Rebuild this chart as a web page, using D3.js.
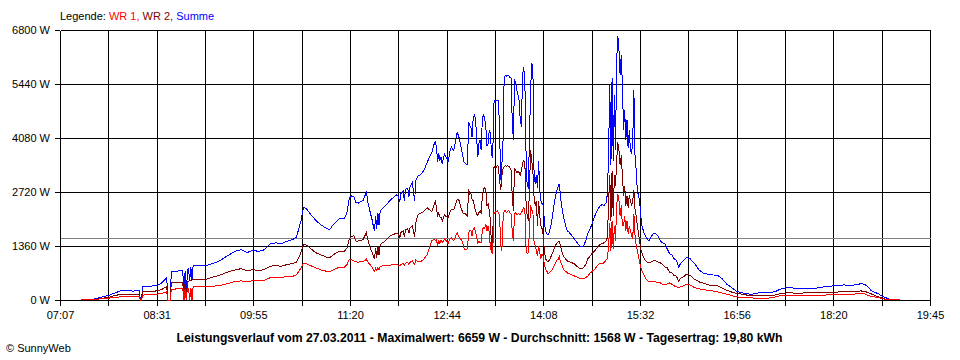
<!DOCTYPE html>
<html><head><meta charset="utf-8">
<script src="https://cdn.jsdelivr.net/npm/d3@7"></script>
<style>
body{margin:0;background:#fff}
svg{display:block}
text{font-family:"Liberation Sans",Arial,sans-serif}
</style>
</head><body><svg id="c" width="960" height="360"></svg>
<script>
const times = [
"07:25","07:30","07:35","07:40","07:41","07:45","07:50","07:54","08:00","08:05",
"08:10","08:16","08:17","08:18","08:19","08:25","08:30","08:35","08:40","08:41",
"08:43","08:44","08:50","08:54","08:55","08:56","08:57","08:58","08:59","09:00",
"09:01","09:02","09:03","09:10","09:15","09:20","09:25","09:30","09:35","09:40",
"09:45","09:50","09:55","10:00","10:05","10:10","10:15","10:20","10:25","10:30",
"10:33","10:35","10:37","10:39","10:40","10:42","10:45","10:50","10:55","11:00",
"11:02","11:05","11:10","11:15","11:17","11:19","11:21","11:23","11:25","11:27",
"11:29","11:31","11:33","11:34","11:35","11:37","11:39","11:40","11:41","11:42",
"11:43","11:44","11:45","11:46","11:50","11:55","12:00","12:02","12:03","12:04",
"12:06","12:07","12:08","12:10","12:11","12:12","12:14","12:15","12:16","12:17",
"12:19","12:21","12:24","12:27","12:29","12:31","12:33","12:34","12:35","12:36",
"12:37","12:38","12:39","12:40","12:42","12:44","12:45","12:47","12:48","12:50",
"12:51","12:52","12:53","12:54","12:55","12:56","12:57","12:58","12:59","13:00",
"13:02","13:03","13:04","13:05","13:06","13:07","13:08","13:09","13:10","13:11",
"13:12","13:13","13:14","13:15","13:16","13:17","13:18","13:19","13:20","13:21",
"13:22","13:23","13:24","13:25","13:26","13:27","13:28","13:29","13:30","13:31",
"13:32","13:33","13:34","13:35","13:36","13:37","13:38","13:39","13:40","13:41",
"13:42","13:43","13:44","13:45","13:46","13:47","13:48","13:49","13:50","13:51",
"13:52","13:53","13:54","13:55","13:56","13:57","13:58","13:59","14:00","14:01",
"14:02","14:03","14:04","14:05","14:06","14:07","14:08","14:09","14:10","14:11",
"14:12","14:13","14:14","14:15","14:16","14:17","14:18","14:19","14:20","14:21",
"14:22","14:23","14:24","14:25","14:26","14:27","14:28","14:29","14:30","14:31",
"14:33","14:35","14:37","14:39","14:41","14:43","14:45","14:47","14:49","14:51",
"14:53","14:55","14:57","14:59","15:01","15:03","15:04","15:05","15:06","15:07",
"15:08","15:09","15:10","15:11","15:12","15:13","15:14","15:15","15:16","15:17",
"15:18","15:19","15:20","15:21","15:22","15:23","15:24","15:25","15:26","15:27",
"15:28","15:29","15:30","15:31","15:32","15:33","15:34","15:36","15:38","15:40",
"15:42","15:44","15:46","15:48","15:50","15:52","15:54","15:56","15:58","16:00",
"16:02","16:04","16:06","16:08","16:10","16:13","16:16","16:20","16:24","16:28",
"16:32","16:36","16:40","16:44","16:48","16:52","16:56","17:00","17:05","17:10",
"17:15","17:20","17:25","17:30","17:35","17:40","17:45","17:50","17:55","18:00",
"18:05","18:10","18:15","18:20","18:25","18:30","18:35","18:40","18:45","18:48",
"18:51","18:54","18:57","19:00","19:03","19:06","19:10","19:15","19:19"
];

// Summe (W)
const summe = [
0,15,20,35,60,85,120,170,230,232,
226,228,0,0,330,345,360,410,560,0,
0,730,730,735,0,720,0,760,790,480,
830,500,860,860,870,920,970,1060,1150,1230,
1270,1190,1260,1220,1265,1410,1440,1420,1480,1530,
1580,1790,2000,2320,2330,2290,2170,2000,1880,1790,
1770,1900,2040,2060,2200,2560,2620,2600,2450,2440,
2480,2500,2650,2730,2500,2240,2010,1860,1750,2110,
1800,2180,1880,2250,2360,2520,2650,2600,2470,2680,
2740,2500,2780,2820,2600,2850,2960,2700,2500,3000,
3130,3150,3260,3470,3610,3720,3930,3980,3850,3470,
3690,3510,3600,3430,3680,3560,3470,3770,3850,3770,
3890,4070,4230,4150,4060,3890,3770,3620,3470,3440,
3410,4480,4400,4350,4100,4580,4650,4580,4100,3590,
3940,4020,3770,4600,4650,4580,4350,3890,3940,4270,
4220,3640,3590,4960,5030,5010,5030,5030,4270,3010,
3390,4020,5610,5660,5640,5660,5640,5610,5590,4530,
4020,5540,5490,5280,5160,5030,4530,4370,5660,5870,
5540,3770,2880,2830,4020,5280,5970,5870,3260,2930,
3140,2830,3510,2760,2500,2430,2380,2000,1740,1670,
1640,1690,1800,1920,2100,2300,2500,2650,2760,2860,
2930,2630,2380,2200,2050,1950,1820,1740,1720,1690,
1620,1540,1470,1390,1340,1340,1490,1690,1800,1950,
2120,2250,2350,2400,2380,2450,2710,3770,5410,3390,
5590,3510,5160,3770,6040,6659,6300,5660,6170,5410,
4270,4780,4020,4530,3820,4270,3770,3690,4020,5280,
3640,3260,2760,2630,2500,2120,1870,1670,1570,1490,
1590,1670,1670,1620,1490,1440,1420,1290,1170,1140,
1040,1000,830,935,990,1070,1040,910,750,670,
650,630,624,531,397,316,228,190,159,144,
177,185,185,210,278,311,303,286,286,291,
296,321,341,354,367,379,372,379,412,392,
329,228,190,159,101,63,13,8,0
];

// WR 2 (W)
const wr2 = [
0,8,11,20,35,50,72,105,145,146,
142,145,0,0,205,215,225,255,340,0,
0,440,440,445,0,435,0,460,475,480,
490,500,510,520,525,575,610,670,720,760,
790,730,770,735,770,850,865,850,895,920,
950,1070,1200,1390,1400,1380,1300,1190,1130,1070,
1060,1140,1220,1230,1310,1540,1600,1620,1470,1490,
1500,1520,1640,1700,1540,1340,1190,1100,1030,1300,
1060,1360,1130,1400,1480,1620,1680,1660,1560,1700,
1740,1590,1770,1790,1680,1810,1870,1720,1600,1950,
2150,2180,2230,2320,2270,2230,2400,2480,2330,2100,
2200,2090,2090,1990,2140,2090,2050,2230,2290,2280,
2350,2430,2530,2530,2490,2350,2270,2200,2160,2180,
2120,2790,2660,2680,2550,2500,2380,2250,2170,2120,
2200,2250,2170,2630,2810,2830,2760,2380,2430,2250,
2000,1290,1320,3340,3360,3340,3390,3360,3010,2760,
3140,3310,3360,3390,3360,3390,3360,3340,3260,2630,
2250,3310,3260,3210,3240,3210,3140,3260,3440,3510,
3460,2500,2120,2000,2760,3770,3510,3260,2630,2380,
2500,1870,2500,2120,1870,1800,1620,1240,1040,990,
960,990,1040,1110,1190,1240,1340,1390,1440,1470,
1470,1370,1240,1160,1090,1060,1010,990,960,960,
940,910,860,810,780,810,890,1040,1110,1190,
1240,1320,1390,1420,1440,1490,1590,2500,3140,2000,
3260,2120,3140,2880,3510,3970,3770,3390,3640,3140,
2630,2880,2380,2630,2330,2630,2500,2380,2500,2760,
2300,2120,1870,1690,1490,1290,1190,1040,960,940,
960,990,990,960,940,890,830,810,700,690,
620,600,480,556,580,650,620,520,455,420,
380,367,354,303,245,202,169,152,126,114,
101,101,109,126,164,177,177,172,177,177,
177,177,190,195,202,207,210,215,228,215,
190,152,114,76,51,25,5,4,0
];

// WR 1 (W)
const wr1 = [
0,7,9,15,25,35,48,65,78,80,
78,80,0,0,125,130,140,160,210,0,
0,275,278,280,0,275,0,290,295,0,
310,0,330,335,338,345,360,390,430,470,
480,460,490,485,495,560,575,570,590,600,
630,720,800,930,930,910,870,810,750,720,
710,760,820,830,890,1020,1020,980,960,950,
980,960,1000,1030,960,900,820,770,720,810,
740,820,750,850,870,880,890,880,860,900,
910,880,930,940,900,950,990,930,900,1020,
960,960,1030,1150,1340,1490,1530,1500,1520,1370,
1490,1420,1510,1440,1540,1470,1420,1540,1560,1490,
1540,1640,1700,1620,1570,1540,1500,1420,1310,1260,
1290,1690,1740,1740,1620,1800,1820,1740,1570,1440,
1490,1440,1440,1770,1820,1800,1920,1740,1870,1690,
1320,1190,1160,2170,2200,2230,2250,2200,2120,1370,
1240,2000,2250,2250,2200,2230,2250,2200,2170,1740,
1490,2170,2200,2150,2170,2170,2150,2200,2250,2330,
2300,1370,1160,1190,1740,2380,2250,2250,1490,1370,
1240,1110,1370,1190,1040,1160,1090,910,780,730,
680,680,710,730,780,830,890,940,1010,1010,
1090,960,910,810,760,730,710,680,660,660,
630,610,580,560,530,530,560,610,680,730,
780,860,910,910,940,1010,1060,1370,1950,1240,
2000,1290,1870,1490,2380,2680,2500,2120,2380,1870,
1870,2120,1740,2000,1670,1870,1740,1620,1540,2170,
1620,1370,1240,1110,940,830,730,610,510,460,
460,455,455,430,430,400,400,400,430,400,
360,330,320,329,354,397,379,311,278,265,
240,228,202,177,144,114,83,68,58,51,
43,43,51,76,109,119,119,114,119,119,
121,121,126,126,131,139,144,152,159,152,
114,88,76,58,38,18,5,4,0
];

const xTickLabels = ["07:07","08:31","09:55","11:20","12:44","14:08","15:32","16:56","18:20","19:45"];
const yTickValues = [0,1360,2720,4080,5440,6800];
const averageW = 1568;
const legendParts = [["Legende: ","#000000"],["WR 1, ","#ff0000"],["WR 2, ","#800000"],["Summe","#0000ff"]];
const titleText = "Leistungsverlauf vom 27.03.2011 - Maximalwert: 6659 W - Durchschnitt: 1568 W - Tagesertrag: 19,80 kWh";
const copyrightText = "\u00A9 SunnyWeb";

const toMin = s => { const p = s.split(":").map(Number); return p[0]*60 + p[1]; };
const tStart = toMin(xTickLabels[0]), tEnd = toMin(xTickLabels[xTickLabels.length-1]);

const svg = d3.select("#c");
svg.append("rect").attr("width",960).attr("height",360).attr("fill","#fff");

const x = d3.scaleLinear().domain([tStart,tEnd]).range([60,930]);
const y = d3.scaleLinear().domain([0,6800]).range([300,30]);

const nInt = (xTickLabels.length-1)*2;
const vTicks = d3.range(nInt+1).map(i => tStart + i*(tEnd-tStart)/nInt);
const px = v => Math.round(v) + 0.5;

const grid = svg.append("g").attr("shape-rendering","crispEdges").attr("stroke","#000").attr("stroke-width",1);
grid.selectAll("line.v").data(vTicks).join("line").attr("class","v")
  .attr("x1",d=>px(x(d))).attr("x2",d=>px(x(d))).attr("y1",px(y(6800))).attr("y2",px(y(0)));
grid.selectAll("line.h").data(yTickValues).join("line").attr("class","h")
  .attr("x1",px(x(tStart))).attr("x2",px(x(tEnd))).attr("y1",d=>px(y(d))).attr("y2",d=>px(y(d)));

// average line
svg.append("line").attr("shape-rendering","crispEdges").attr("stroke","#808080")
  .attr("x1",px(x(tStart))).attr("x2",px(x(tEnd))).attr("y1",px(y(averageW))).attr("y2",px(y(averageW)));

// axes
const xAxis = d3.axisBottom(x).tickValues(vTicks).tickSize(5).tickSizeOuter(0).tickPadding(6)
  .tickFormat((d,i)=> i%2===0 ? xTickLabels[i/2] : "");
const gx = svg.append("g").attr("transform","translate(0,"+px(y(0)-0.5)+")").call(xAxis);
gx.select(".domain").remove();
gx.selectAll("line").attr("shape-rendering","crispEdges").attr("stroke","#000");
gx.selectAll("text").attr("font-size",11).attr("fill","#000").style("font-family",'"Liberation Sans",Arial,sans-serif');

const yAxis = d3.axisLeft(y).tickValues(yTickValues).tickSize(5).tickSizeOuter(0).tickPadding(5)
  .tickFormat(d => d + " W");
const gy = svg.append("g").attr("transform","translate("+(px(x(tStart))-0.5)+",0)").call(yAxis);
gy.select(".domain").remove();
gy.selectAll("line").attr("shape-rendering","crispEdges").attr("stroke","#000");
gy.selectAll("text").attr("font-size",11).attr("fill","#000").style("font-family",'"Liberation Sans",Arial,sans-serif');

// series
const mk = arr => times.map((t,i)=>({t:toMin(t), v:arr[i]}));
const line = d3.line().x(d=>x(d.t)).y(d=>y(d.v));
const series = [[summe,"#0000ff"],[wr2,"#800000"],[wr1,"#ff0000"]];
series.forEach(([arr,col])=>{
  svg.append("path").datum(mk(arr)).attr("d",line).attr("fill","none")
    .attr("stroke",col).attr("stroke-width",1).attr("shape-rendering","crispEdges");
});

// legend
const lg = svg.append("text").attr("x",60).attr("y",20).attr("font-size",11);
legendParts.forEach(([s,c])=> lg.append("tspan").attr("fill",c).text(s));

// title
svg.append("text").attr("x",176.5).attr("y",342).attr("font-size",12.5).attr("font-weight","bold")
  .attr("textLength",606).attr("lengthAdjust","spacingAndGlyphs").text(titleText);

svg.append("text").attr("x",6).attr("y",352).attr("font-size",11).text(copyrightText);
</script>
</body></html>
